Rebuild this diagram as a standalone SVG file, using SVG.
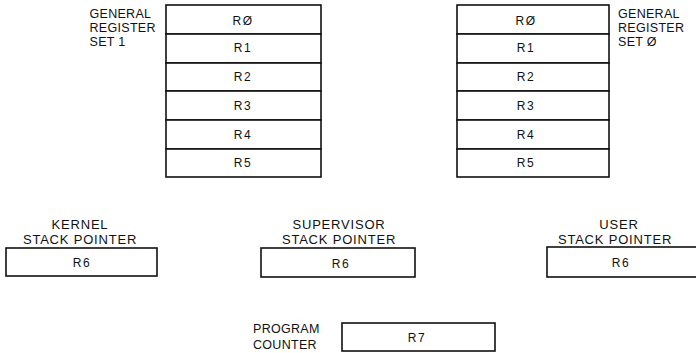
<svg xmlns="http://www.w3.org/2000/svg" width="696" height="353" viewBox="0 0 696 353">
<style>
.box{fill:#fff;stroke:#111;stroke-width:1.6}
.t{font-family:"Liberation Sans",Arial,sans-serif;fill:#111}
.lab{font-size:12.5px;letter-spacing:0.3px}
.sp{font-size:13px;letter-spacing:0.8px;text-anchor:middle}
.r{font-size:12px;letter-spacing:1.5px;text-anchor:middle}
</style>
<rect width="696" height="353" fill="#fff"/>
<g id="set1">
<rect class="box" x="166" y="5" width="155" height="29"/>
<rect class="box" x="166" y="34" width="155" height="29"/>
<rect class="box" x="166" y="63" width="155" height="28"/>
<rect class="box" x="166" y="91" width="155" height="29"/>
<rect class="box" x="166" y="120" width="155" height="29"/>
<rect class="box" x="166" y="149" width="155" height="28"/>
<text class="t r" x="243" y="25">RØ</text>
<text class="t r" x="243" y="52">R1</text>
<text class="t r" x="243" y="81">R2</text>
<text class="t r" x="243" y="109.5">R3</text>
<text class="t r" x="243" y="138.5">R4</text>
<text class="t r" x="243" y="167">R5</text>
<text class="t lab" x="89.5" y="18">GENERAL</text>
<text class="t lab" x="89.5" y="32">REGISTER</text>
<text class="t lab" x="89.5" y="46">SET 1</text>
</g>
<g id="set0">
<rect class="box" x="457" y="5" width="152" height="29"/>
<rect class="box" x="457" y="34" width="152" height="29"/>
<rect class="box" x="457" y="63" width="152" height="28"/>
<rect class="box" x="457" y="91" width="152" height="29"/>
<rect class="box" x="457" y="120" width="152" height="29"/>
<rect class="box" x="457" y="149" width="152" height="28"/>
<text class="t r" x="526" y="25">RØ</text>
<text class="t r" x="526" y="52">R1</text>
<text class="t r" x="526" y="81">R2</text>
<text class="t r" x="526" y="109.5">R3</text>
<text class="t r" x="526" y="138.5">R4</text>
<text class="t r" x="526" y="167">R5</text>
<text class="t lab" x="618" y="18">GENERAL</text>
<text class="t lab" x="618" y="32">REGISTER</text>
<text class="t lab" x="618" y="46">SET Ø</text>
</g>
<g id="kernel">
<text class="t sp" x="80" y="229">KERNEL</text>
<text class="t sp" x="80" y="243.5">STACK POINTER</text>
<rect class="box" x="6" y="248" width="151" height="28"/>
<text class="t r" x="82" y="267">R6</text>
</g>
<g id="supervisor">
<text class="t sp" x="339" y="229">SUPERVISOR</text>
<text class="t sp" x="339" y="243.5">STACK POINTER</text>
<rect class="box" x="261" y="248" width="154" height="29"/>
<text class="t r" x="341" y="267.5">R6</text>
</g>
<g id="user">
<text class="t sp" x="619" y="229">USER</text>
<text class="t sp" x="615" y="243.5">STACK POINTER</text>
<rect class="box" x="547" y="247" width="155" height="30"/>
<text class="t r" x="621" y="267">R6</text>
</g>
<g id="pc">
<text class="t lab" x="253" y="333">PROGRAM</text>
<text class="t lab" x="253" y="349">COUNTER</text>
<rect class="box" x="342" y="323" width="153" height="28"/>
<text class="t r" x="417" y="342">R7</text>
</g>
<g id="connectors"/>
</svg>
